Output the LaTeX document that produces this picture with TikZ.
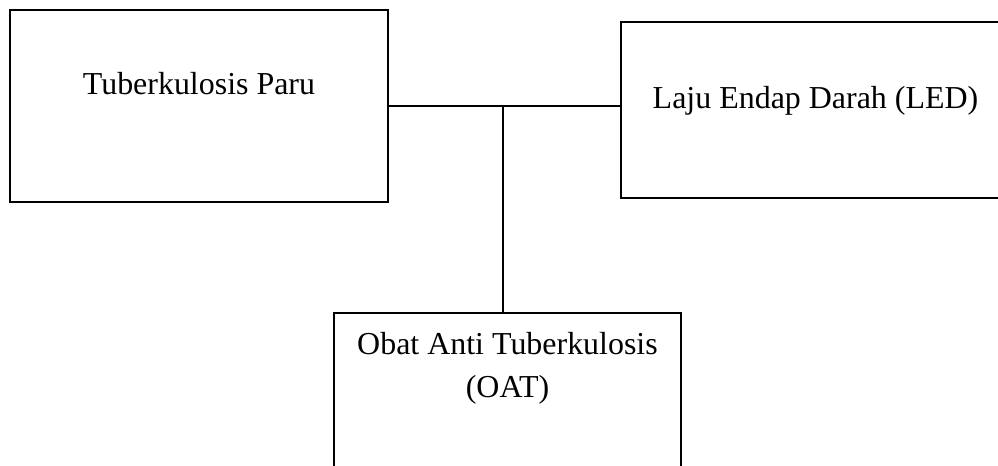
\documentclass[tikz,border=0pt]{standalone}
\usepackage{fontspec}
\setmainfont{Liberation Serif}
\usetikzlibrary{positioning}

\begin{document}
\begin{tikzpicture}[x=0.36pt, y=-0.36pt, line width=0.75pt,
	box/.style={draw, rectangle, inner sep=0pt},
	txt/.style={inner sep=0pt, align=center, font=\fontsize{11.5}{15.5}\selectfont}]
	\useasboundingbox (0,0) rectangle (998,466);
	\clip (0,0) rectangle (998,466);
	\node[box, minimum width=136.08pt, minimum height=69.12pt] (paru) at (199,106) {};
	\node[box, minimum width=140.04pt, minimum height=63.36pt] (led) at (815.5,110) {};
	\node[box, minimum width=124.92pt, minimum height=60.12pt] (oat) at (507.5,396.5) {};
	
	\node[txt, below=22.6pt of paru.north] (paru_t) {Tuberkulosis Paru};
	\node[txt, below=23pt of led.north] (led_t) {Laju Endap Darah (LED)};
	\node[txt, below=7pt of oat.north] (oat_t) {Obat Anti Tuberkulosis\\(OAT)};
	
	\coordinate (jn) at (503,106);
	\draw (paru.east) -- (paru.east -| led.west);
	\draw (jn) -- (jn |- oat.north);
\end{tikzpicture}
\end{document}
